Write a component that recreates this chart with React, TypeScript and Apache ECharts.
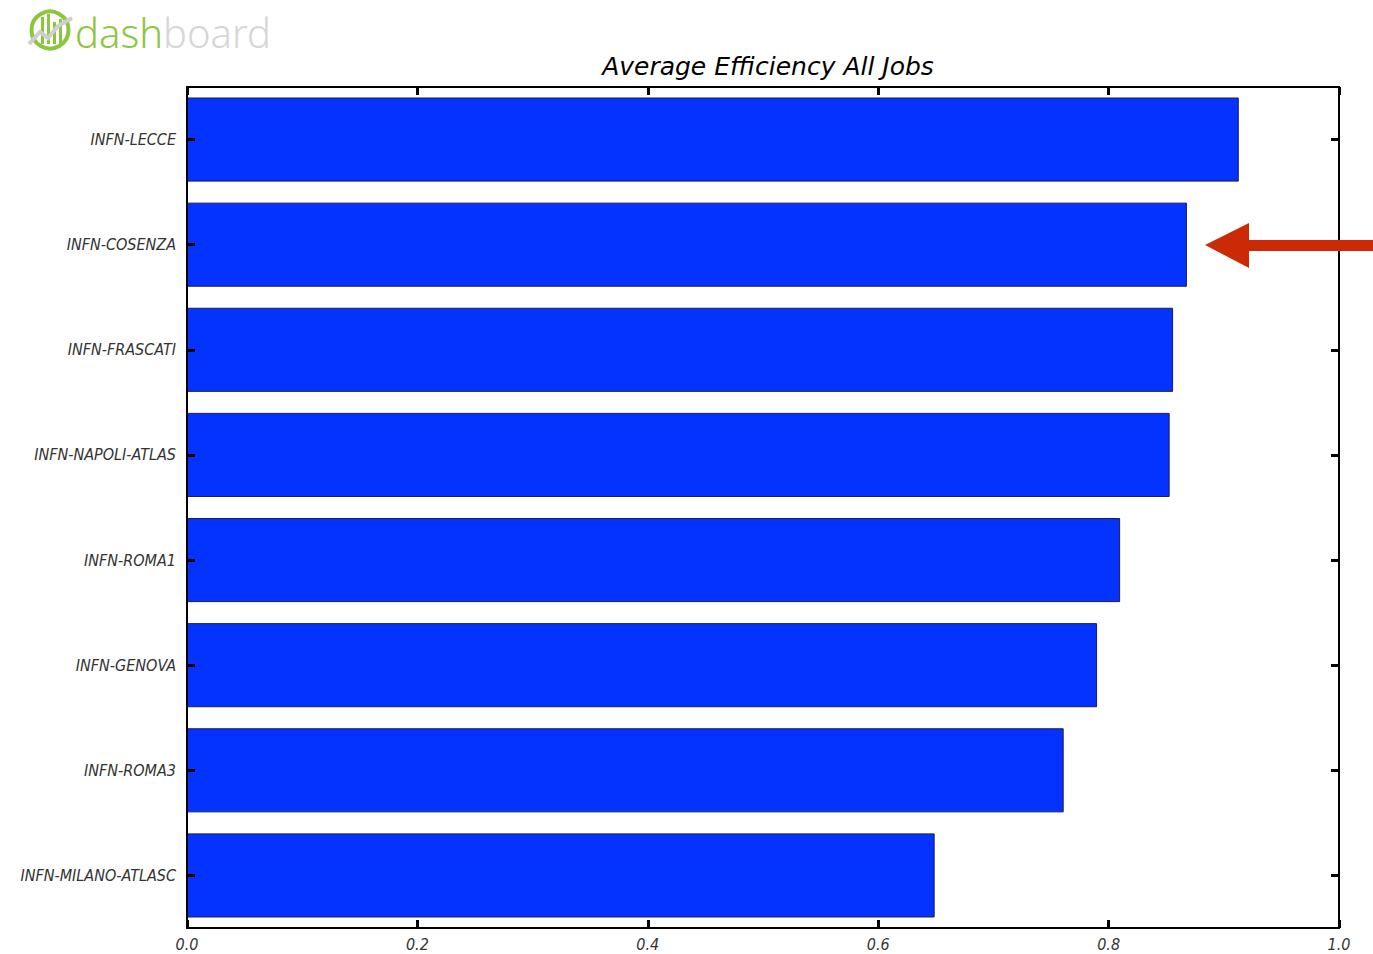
import React, { useEffect, useRef } from "react";
import * as echarts from "echarts";

const categories = [
  "INFN-LECCE",
  "INFN-COSENZA",
  "INFN-FRASCATI",
  "INFN-NAPOLI-ATLAS",
  "INFN-ROMA1",
  "INFN-GENOVA",
  "INFN-ROMA3",
  "INFN-MILANO-ATLASC",
];
const efficiency = [0.913, 0.868, 0.856, 0.853, 0.81, 0.79, 0.761, 0.649];
const titleText = "Average Efficiency All Jobs";

export default function App() {
  const ref = useRef<HTMLDivElement>(null);
  useEffect(() => {
    const chart = echarts.init(ref.current!, null, { renderer: "svg" });
    const labelFont = {
      fontFamily: "DejaVu Sans Condensed",
      fontStyle: "italic",
      color: "#333",
    };
    const tick = { show: true, inside: true, length: 8, lineStyle: { color: "#000", width: 3 } };
    const axisLine = { show: true, onZero: false, lineStyle: { color: "#000", width: 2 } };
    chart.setOption({
      animation: false,
      title: {
        text: titleText,
        left: 763,
        textAlign: "center",
        top: 49,
        textStyle: {
          fontFamily: "DejaVu Sans",
          fontStyle: "italic",
          fontWeight: "normal",
          fontSize: 25,
          color: "#000",
        },
      },
      grid: { left: 187, top: 87, width: 1152, height: 841, containLabel: false },
      xAxis: [
        {
          type: "value",
          position: "bottom",
          z: 10,
          min: 0,
          max: 1,
          interval: 0.2,
          axisLine,
          axisTick: tick,
          splitLine: { show: false },
          axisLabel: {
            ...labelFont,
            fontSize: 16,
            margin: 8,
            formatter: (v: number) => v.toFixed(1),
          },
        },
        {
          type: "value",
          position: "top",
          z: 10,
          min: 0,
          max: 1,
          interval: 0.2,
          axisLine,
          axisTick: tick,
          splitLine: { show: false },
          axisLabel: { show: false },
        },
      ],
      yAxis: [
        {
          type: "category",
          data: categories,
          inverse: true,
          position: "left",
          z: 10,
          axisLine,
          axisTick: { ...tick, alignWithLabel: true },
          axisLabel: { ...labelFont, fontSize: 16, margin: 11 },
        },
        {
          type: "category",
          data: categories,
          inverse: true,
          position: "right",
          z: 10,
          axisLine,
          axisTick: { ...tick, alignWithLabel: true },
          axisLabel: { show: false },
        },
      ],
      series: [
        {
          type: "bar",
          z: 2,
          data: efficiency,
          barWidth: "80%",
          itemStyle: { color: "#0433ff", borderColor: "#1c1c50", borderWidth: 1 },
        },
      ],
      graphic: [
        // red arrow
        {
          type: "polygon",
          z: 100,
          shape: {
            points: [
              [1205, 245],
              [1249, 223],
              [1249, 240],
              [1373, 240],
              [1373, 251],
              [1249, 251],
              [1249, 268],
            ],
          },
          style: { fill: "#cc2a07" },
        },
        // logo
        {
          type: "group",
          children: [
            {
              type: "circle",
              shape: { cx: 50, cy: 30, r: 18.5 },
              style: { fill: "none", stroke: "#8cc63e", lineWidth: 4 },
            },
            { type: "rect", shape: { x: 41, y: 17, width: 3, height: 27 }, style: { fill: "#8cc63e" } },
            { type: "rect", shape: { x: 47, y: 14, width: 3, height: 30 }, style: { fill: "#8cc63e" } },
            { type: "rect", shape: { x: 53, y: 22, width: 3, height: 22 }, style: { fill: "#8cc63e" } },
            { type: "rect", shape: { x: 59, y: 19, width: 3, height: 25 }, style: { fill: "#8cc63e" } },
            {
              type: "polyline",
              shape: { points: [[29, 44], [40, 32], [48, 38], [58, 26], [72, 18]] },
              style: { stroke: "#cfcfcf", lineWidth: 4, fill: "none" },
            },
            {
              type: "text",
              x: 75,
              y: 12,
              style: {
                text: "{g|dash}{w|board}",
                rich: {
                  g: { fill: "#8cc63e", fontSize: 40, fontFamily: "Noto Sans", fontWeight: 300 },
                  w: { fill: "#d6d6d6", fontSize: 40, fontFamily: "Noto Sans", fontWeight: 300 },
                },
              },
            },
          ],
        },
      ],
    });
    return () => chart.dispose();
  }, []);
  return (
    <div
      ref={ref}
      style={{ position: "fixed", left: 0, top: 0, width: 1373, height: 954, background: "#fff" }}
    />
  );
}
